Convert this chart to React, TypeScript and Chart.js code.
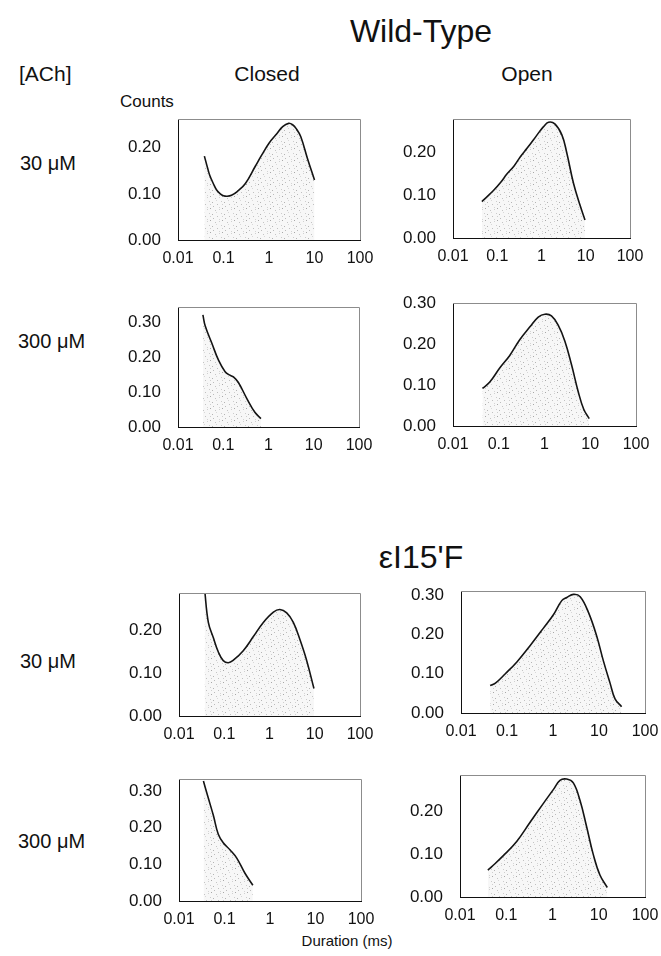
import React, { useEffect, useRef } from "react";
import { Chart, registerables } from "chart.js";

Chart.register(...registerables);

// ---- tick labels ----
const xTickValues = [0.01, 0.1, 1, 10, 100];
const xTickLabels = ["0.01", "0.1", "1", "10", "100"];
const yTicksLow = [0, 0.1, 0.2];
const yTicksHigh = [0, 0.1, 0.2, 0.3];

// ---- Wild-Type, 30 µM, Closed ----
const wtClosed30X = [0.038, 0.045, 0.05, 0.06, 0.07, 0.085, 0.1, 0.12, 0.15, 0.2, 0.3, 0.5, 0.7, 1, 1.5, 2, 2.7, 3.3, 4, 5, 7, 10];
const wtClosed30Y = [0.182, 0.155, 0.14, 0.122, 0.109, 0.1, 0.096, 0.095, 0.097, 0.105, 0.122, 0.16, 0.185, 0.21, 0.231, 0.246, 0.253, 0.25, 0.241, 0.224, 0.177, 0.13];

// ---- Wild-Type, 30 µM, Open ----
const wtOpen30X = [0.045, 0.06, 0.081, 0.12, 0.165, 0.24, 0.33, 0.47, 0.66, 0.9, 1.1, 1.44, 2.0, 2.9, 3.7, 5.3, 7.5, 9.6];
const wtOpen30Y = [0.085, 0.097, 0.11, 0.13, 0.149, 0.168, 0.189, 0.209, 0.229, 0.248, 0.259, 0.27, 0.266, 0.24, 0.2, 0.127, 0.075, 0.042];

// ---- Wild-Type, 300 µM, Closed ----
const wtClosed300X = [0.0355, 0.04, 0.056, 0.079, 0.11, 0.14, 0.168, 0.216, 0.33, 0.5, 0.68];
const wtClosed300Y = [0.32, 0.288, 0.239, 0.19, 0.158, 0.148, 0.143, 0.127, 0.082, 0.042, 0.024];

// ---- Wild-Type, 300 µM, Open ----
const wtOpen300X = [0.044, 0.063, 0.105, 0.174, 0.29, 0.48, 0.73, 1.02, 1.42, 1.99, 2.79, 3.9, 5.46, 7.2, 9.5];
const wtOpen300Y = [0.092, 0.107, 0.142, 0.173, 0.212, 0.243, 0.267, 0.274, 0.27, 0.247, 0.208, 0.15, 0.084, 0.041, 0.018];

// ---- εI15'F, 30 µM, Closed ----
const mutClosed30X = [0.0368, 0.0445, 0.0575, 0.074, 0.095, 0.123, 0.159, 0.263, 0.44, 0.73, 1.22, 1.7, 2.4, 3.36, 4.7, 6.6, 9.6];
const mutClosed30Y = [0.295, 0.218, 0.182, 0.149, 0.129, 0.124, 0.13, 0.152, 0.185, 0.218, 0.242, 0.248, 0.24, 0.218, 0.178, 0.13, 0.064];

// ---- εI15'F, 30 µM, Open ----
const mutOpen30X = [0.043, 0.056, 0.092, 0.164, 0.32, 0.62, 1.02, 1.55, 2.0, 2.79, 3.9, 5.9, 8.9, 12.5, 17.4, 22.3, 31];
const mutOpen30Y = [0.07, 0.076, 0.1, 0.13, 0.172, 0.216, 0.25, 0.286, 0.294, 0.302, 0.296, 0.256, 0.196, 0.132, 0.076, 0.036, 0.016];

// ---- εI15'F, 300 µM, Closed ----
const mutClosed300X = [0.0344, 0.0442, 0.057, 0.073, 0.095, 0.133, 0.186, 0.284, 0.42];
const mutClosed300Y = [0.327, 0.28, 0.233, 0.182, 0.158, 0.139, 0.117, 0.075, 0.043];

// ---- εI15'F, 300 µM, Open ----
const mutOpen300X = [0.04, 0.048, 0.0865, 0.168, 0.325, 0.63, 1.05, 1.45, 2.03, 2.82, 3.94, 5.5, 7.6, 10.6, 15.3];
const mutOpen300Y = [0.0625, 0.07, 0.096, 0.129, 0.173, 0.217, 0.25, 0.271, 0.274, 0.265, 0.224, 0.162, 0.099, 0.051, 0.022];

// ---- layout / style ----
const FONT = "'Liberation Sans', Arial, Helvetica, sans-serif";
const Y_AXIS_W = 52;
const X_AXIS_H = 26;
const PAD_T = 12;
const PAD_R = 24;

type PanelSpec = {
  xs: number[];
  ys: number[];
  yMax: number;
  yTicks: number[];
  left: number;
  top: number;
  w: number;
  h: number;
};

const panels: PanelSpec[] = [
  { xs: wtClosed30X, ys: wtClosed30Y, yMax: 0.262, yTicks: yTicksLow, left: 178, top: 112, w: 182, h: 128 },
  { xs: wtOpen30X, ys: wtOpen30Y, yMax: 0.277, yTicks: yTicksLow, left: 453, top: 112, w: 177, h: 126 },
  { xs: wtClosed300X, ys: wtClosed300Y, yMax: 0.342, yTicks: yTicksHigh, left: 178, top: 300, w: 181, h: 127 },
  { xs: wtOpen300X, ys: wtOpen300Y, yMax: 0.301, yTicks: yTicksHigh, left: 453, top: 296, w: 183, h: 130 },
  { xs: mutClosed30X, ys: mutClosed30Y, yMax: 0.286, yTicks: yTicksLow, left: 179, top: 586, w: 181, h: 130 },
  { xs: mutOpen30X, ys: mutOpen30Y, yMax: 0.31, yTicks: yTicksHigh, left: 461, top: 584, w: 184, h: 129 },
  { xs: mutClosed300X, ys: mutClosed300Y, yMax: 0.332, yTicks: yTicksHigh, left: 179, top: 772, w: 182, h: 129 },
  { xs: mutOpen300X, ys: mutOpen300Y, yMax: 0.283, yTicks: yTicksLow, left: 460, top: 768, w: 185, h: 129 },
];

const stippleDots: [number, number, string][] = [
  [0, 0, "#a8a8a8"], [5, 2, "#c4c4c4"], [9, 1, "#d0d0d0"], [2, 6, "#b4b4b4"],
  [7, 8, "#c0c0c0"], [11, 5, "#cccccc"], [3, 10, "#bcbcbc"], [9, 11, "#d4d4d4"],
  [6, 4, "#d8d8d8"], [0, 8, "#cfcfcf"],
];

const framePlugin = {
  id: "frame",
  afterDatasetsDraw(chart: any) {
    const { ctx, chartArea } = chart;
    const { left, right, top, bottom } = chartArea;
    ctx.save();
    ctx.strokeStyle = "#8c8c8c";
    ctx.lineWidth = 1;
    ctx.beginPath();
    ctx.moveTo(left, Math.round(top) + 0.5);
    ctx.lineTo(Math.round(right) + 0.5, Math.round(top) + 0.5);
    ctx.lineTo(Math.round(right) + 0.5, bottom);
    ctx.stroke();
    ctx.restore();
  },
};

function Panel({ spec }: { spec: PanelSpec }) {
  const ref = useRef<HTMLCanvasElement>(null);
  const cw = Y_AXIS_W + spec.w + PAD_R;
  const ch = PAD_T + spec.h + X_AXIS_H;

  useEffect(() => {
    const canvas = ref.current;
    if (!canvas) return;
    const tile = document.createElement("canvas");
    tile.width = 12;
    tile.height = 12;
    const tctx = tile.getContext("2d")!;
    tctx.fillStyle = "rgba(0,0,0,0.03)";
    tctx.fillRect(0, 0, 12, 12);
    stippleDots.forEach(([x, y, c]) => {
      tctx.fillStyle = c;
      tctx.fillRect(x, y, 1, 1);
    });
    const pattern = canvas.getContext("2d")!.createPattern(tile, "repeat");

    const chart = new Chart(canvas, {
      type: "line",
      data: {
        datasets: [
          {
            data: spec.xs.map((x, i) => ({ x, y: spec.ys[i] })),
            borderColor: "#141414",
            borderWidth: 1.6,
            pointRadius: 0,
            tension: 0.4,
            fill: "origin",
            backgroundColor: pattern as any,
          },
        ],
      },
      options: {
        responsive: false,
        maintainAspectRatio: false,
        animation: false,
        layout: { padding: { top: PAD_T, right: PAD_R, left: 0, bottom: 0 } },
        plugins: { legend: { display: false }, tooltip: { enabled: false } },
        scales: {
          x: {
            type: "logarithmic",
            min: 0.01,
            max: 100,
            grid: { display: false },
            border: { display: true, color: "#111", width: 1 },
            afterBuildTicks: (axis: any) => {
              axis.ticks = xTickValues.map((v) => ({ value: v }));
            },
            afterFit: (axis: any) => {
              axis.height = X_AXIS_H;
            },
            ticks: {
              autoSkip: false,
              maxRotation: 0,
              padding: 1,
              color: "#111",
              font: { family: FONT, size: 16 },
              callback: (v: any) => {
                const n = Number(v);
                const i = xTickValues.findIndex((t) => Math.abs(t - n) / t < 1e-6);
                return i >= 0 ? xTickLabels[i] : "";
              },
            },
          },
          y: {
            type: "linear",
            min: 0,
            max: spec.yMax,
            grid: { display: false },
            border: { display: true, color: "#111", width: 1 },
            afterBuildTicks: (axis: any) => {
              axis.ticks = spec.yTicks.map((v) => ({ value: v }));
            },
            afterFit: (axis: any) => {
              axis.width = Y_AXIS_W;
            },
            ticks: {
              padding: 9,
              color: "#111",
              font: { family: FONT, size: 17 },
              callback: (v: any) => Number(v).toFixed(2),
            },
          },
        },
      },
      plugins: [framePlugin],
    } as any);
    return () => chart.destroy();
  }, [spec]);

  return (
    <canvas
      ref={ref}
      width={cw}
      height={ch}
      style={{
        position: "absolute",
        left: spec.left - Y_AXIS_W,
        top: spec.top - PAD_T,
        width: cw,
        height: ch,
      }}
    />
  );
}

function Label({
  text,
  x,
  y,
  size,
  align = "center",
}: {
  text: string;
  x: number;
  y: number;
  size: number;
  align?: "left" | "center";
}) {
  return (
    <div
      style={{
        position: "absolute",
        left: x,
        top: y,
        transform: align === "center" ? "translate(-50%, -50%)" : "translate(0, -50%)",
        fontFamily: FONT,
        fontSize: size,
        lineHeight: 1,
        whiteSpace: "nowrap",
        color: "#111",
      }}
    >
      {text}
    </div>
  );
}

export default function App() {
  return (
    <div
      style={{
        position: "absolute",
        left: 0,
        top: 0,
        width: 661,
        height: 956,
        background: "#fff",
        overflow: "hidden",
      }}
    >
      <Label text="Wild-Type" x={421} y={31} size={32} />
      <Label text="[ACh]" x={19} y={73} size={21} align="left" />
      <Label text="Closed" x={267} y={73} size={21} />
      <Label text="Open" x={527} y={73} size={21} />
      <Label text="Counts" x={120} y={101} size={17} align="left" />
      <Label text="30 μM" x={20} y={163} size={20} align="left" />
      <Label text="300 μM" x={18} y={341} size={20} align="left" />
      <Label text="εI15'F" x={421} y={557} size={32} />
      <Label text="30 μM" x={20} y={661} size={20} align="left" />
      <Label text="300 μM" x={18} y={841} size={20} align="left" />
      <Label text="Duration (ms)" x={347} y={940} size={15} />
      {panels.map((p, i) => (
        <Panel key={i} spec={p} />
      ))}
    </div>
  );
}
